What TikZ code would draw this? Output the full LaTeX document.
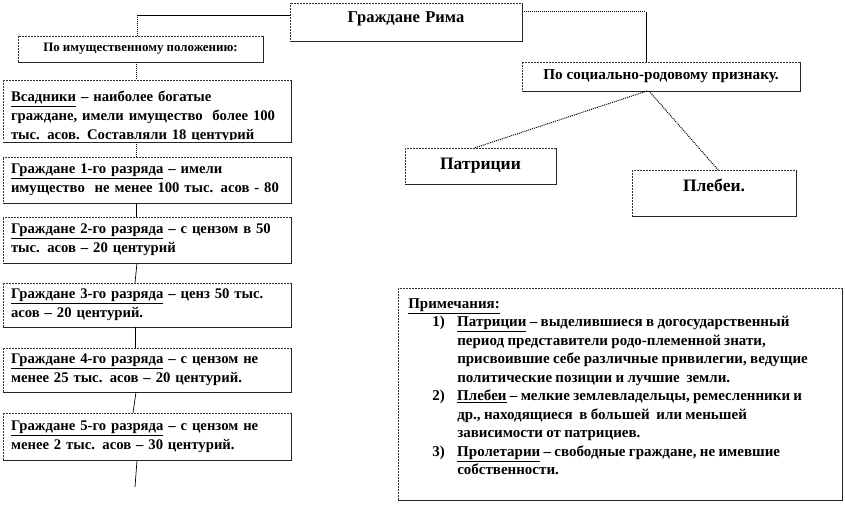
\documentclass[tikz,border=0pt]{standalone}
\usepackage{fontspec}
\setmainfont{Liberation Serif}
\begin{document}
\begin{tikzpicture}[x=1pt,y=-1pt,
  box/.style={draw=black!80, densely dotted, line width=0.5pt, inner sep=0pt, font=\bfseries},
  lbox/.style={box, minimum width=288pt, text width=272pt, align=left, minimum height=#1, font=\fontsize{14.7}{19}\selectfont\bfseries},
  conn/.style={draw=black, line width=0.7pt},
  dconn/.style={draw=black, line width=1pt, densely dotted},
  shadowline/.style={draw=black!85, line width=0.8pt}
]
\path[use as bounding box] (0,0) rectangle (845,505);

% top
\node[box, minimum width=232pt, text width=232pt, align=center, text height=20pt, text depth=18pt, font=\fontsize{16.5}{18}\selectfont\bfseries] (rim) at (406,22) {Граждане Рима};
\node[box, minimum width=245pt, minimum height=26pt, font=\fontsize{12.9}{14}\selectfont\bfseries] (imu) at (140.5,49) {По имущественному положению:};

% left column
\begin{scope}
\clip (2,79) rectangle (292,139.5);
\node[box, minimum width=288pt, text width=272pt, align=left, font=\fontsize{14.7}{19}\selectfont\bfseries, text height=22pt, text depth=40pt] (vsad) at (147,111)
 {\underline{Всадники} – наиболее богатые\\граждане, имели имущество\ \ более 100\\тыс. асов. Составляли 18 центурий};
\end{scope}
\node[lbox=46pt] (r1) at (147,180) {\underline{Граждане 1-го разряда} – имели\\имущество\ \ не менее 100 тыс. асов - 80};
\node[lbox=46pt] (r2) at (147,240) {\underline{Граждане 2-го разряда} – с цензом в 50\\тыс. асов – 20 центурий};
\node[lbox=44pt] (r3) at (147,305) {\underline{Граждане 3-го разряда} – ценз 50 тыс.\\асов – 20 центурий.};
\node[lbox=44pt] (r4) at (147,370) {\underline{Граждане 4-го разряда} – с цензом не\\менее 25 тыс. асов – 20 центурий.};
\node[lbox=47pt] (r5) at (147,436.5) {\underline{Граждане 5-го разряда} – с цензом не\\менее 2 тыс. асов – 30 центурий.};

% right part
\node[box, minimum width=278pt, minimum height=29pt, font=\fontsize{15.2}{16}\selectfont\bfseries] (soc) at (661,76.5) {По социально-родовому признаку.};
\node[box, minimum width=151pt, minimum height=36pt, font=\fontsize{17.5}{19}\selectfont\bfseries] (patr) at (480.5,166) {Патриции};
\node[box, minimum width=164pt, text width=164pt, align=center, text height=21pt, text depth=25pt, font=\fontsize{17.5}{19}\selectfont\bfseries] (pleb) at (714,193) {Плебеи.};

% notes
\node[box, text width=424pt, anchor=north west, inner xsep=10pt, inner ysep=6pt, text height=14pt, text depth=186pt] (notes) at (398,288)
{\fontsize{15}{18.5}\selectfont\bfseries
\begin{tabular}[t]{@{}p{24pt}@{}p{25pt}@{}l@{}}
\multicolumn{3}{@{}l@{}}{\underline{Примечания:}}\\
&1)&\underline{Патриции} – выделившиеся в догосударственный\\
&&период представители родо-племенной знати,\\
&&присвоившие себе различные привилегии, ведущие\\
&&политические позиции и лучшие\ \ земли.\\
&2)&\underline{Плебеи} – мелкие землевладельцы, ремесленники и\\
&&др., находящиеся\ \ в большей\ \ или меньшей\\
&&зависимости от патрициев.\\
&3)&\underline{Пролетарии} – свободные граждане, не имевшие\\
&&собственности.\\
\end{tabular}};

% shadows
\foreach \n in {rim,imu,vsad,r1,r2,r3,r4,r5,soc,patr,pleb,notes}
  \draw[shadowline] (\n.south west) -- (\n.south east) -- (\n.north east);

% connectors left
\coordinate (j1) at (137,15);
\coordinate (endl) at (135,487);
\draw[conn] (rim.west |- j1) -- (j1);
\draw[dconn] (j1) -- (j1 |- imu.north);
\draw[dconn] (imu.south -| 136,0) -- (vsad.north -| 136,0);
\draw[dconn] (vsad.south -| 136,0) -- (r1.north -| 136,0);
\draw[conn] (r1.south -| 136,0) -- (r2.north -| 136,0);
\draw[conn] (r2.south -| 137,0) -- (r3.north -| 135,0);
\draw[conn] (r3.south -| 135,0) -- (r4.north -| 135,0);
\draw[conn] (r4.south -| 136,0) -- (r5.north -| 133,0);
\draw[conn] (r5.south -| 137,0) -- (endl);

% connectors right
\coordinate (j2) at (646,12);
\draw[dconn] (rim.east |- j2) -- (j2);
\draw[conn] (j2) -- (j2 |- soc.north);
\coordinate (s1) at (647,91);
\coordinate (s2) at (649,91);
\draw[dconn] (s1) -- (patr.north -| 475,0);
\draw[dconn] (s2) -- (pleb.north -| 718,0);
\end{tikzpicture}
\end{document}
